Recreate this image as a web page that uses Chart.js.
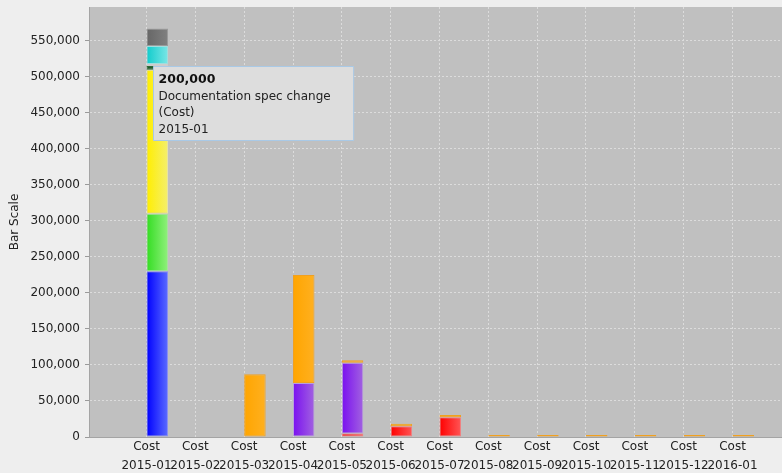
<!DOCTYPE html>
<html>
<head>
<meta charset="utf-8">
<script src="https://cdn.jsdelivr.net/npm/chart.js@4/dist/chart.umd.min.js"></script>
<style>
html,body{margin:0;padding:0;background:#eeeeee;overflow:hidden;}
canvas{display:block;}
</style>
</head>
<body>
<canvas id="c" width="782" height="473"></canvas>
<script>
// ---- data ----
const periods = ['2015-01','2015-02','2015-03','2015-04','2015-05','2015-06','2015-07','2015-08','2015-09','2015-10','2015-11','2015-12','2016-01'];
const subCategory = 'Cost';
const yTickValues = [0,50000,100000,150000,200000,250000,300000,350000,400000,450000,500000,550000];

const blueValues      = [230000,0,0,0,0,0,0,0,0,0,0,0,0];
const greenValues     = [80000,0,0,0,0,0,0,0,0,0,0,0,0];
const yellowValues    = [200000,0,0,0,0,0,0,0,0,0,0,0,0];
const darkGreenValues = [5000,0,0,0,0,0,0,0,0,0,0,0,0];
const lightGrayValues = [3000,0,0,0,0,0,0,0,0,0,0,0,0];
const cyanValues      = [25000,0,0,0,0,0,0,0,0,0,0,0,0];
const grayValues      = [24000,0,0,0,0,0,0,0,0,0,0,0,0];
const redValues       = [0,0,0,0,5000,15000,27500,0,0,0,0,0,0];
const purpleValues    = [0,0,0,75000,98000,0,0,0,0,0,0,0,0];
const orangeValues    = [0,0,87000,150000,3500,3500,3000,2700,2700,2700,2700,2700,2700];

const highlightedSeries = 'Documentation spec change';

// ---- styling ----
const FONT = 'DejaVu Sans';
const CAT_PCT = 0.88;
const X_MIN = -1.1775, X_MAX = 13.0137;
const Y_MAX = 597000;
const TOOLTIP_POINTER = {x: 153.5, y: 66.5};

const fmt = v => Number(v).toLocaleString('en-US');

function grad(c0, c1) {
  return function(ctx) {
    if (ctx.type !== 'data') return c0;
    const chart = ctx.chart, xs = chart.scales.x;
    if (!xs) return c0;
    const px = xs.getPixelForValue(ctx.dataIndex);
    const step = xs.getPixelForValue(1) - xs.getPixelForValue(0);
    const w = step * CAT_PCT / 2;
    if (!isFinite(px) || !isFinite(w) || w <= 0) return c0;
    const g = chart.ctx.createLinearGradient(px, 0, px + w, 0);
    g.addColorStop(0, c0);
    g.addColorStop(1, c1);
    return g;
  };
}

const toPoints = arr => arr.map((v, i) => ({x: i, y: v || null}));

const series = [
  {label: 'Requirements', values: blueValues, c: ['#0000ff', '#5a6bff'], b: '#8a90f0'},
  {label: 'Design', values: greenValues, c: ['#33dd22', '#90f07c'], b: '#a8e0a0'},
  {label: highlightedSeries, values: yellowValues, c: ['#ffee00', '#f4ef6c'], b: '#e8e4a0'},
  {label: 'Review', values: darkGreenValues, c: ['#1c5a28', '#3b6c42'], b: '#2e6a38'},
  {label: 'Other', values: lightGrayValues, c: ['#c4c4c4', '#d2d2d2'], b: '#cccccc'},
  {label: 'Testing', values: cyanValues, c: ['#10cccc', '#7ae6e6'], b: '#a0dede'},
  {label: 'Management', values: grayValues, c: ['#666666', '#808080'], b: '#9a9a9a'},
  {label: 'Defect fix', values: redValues, c: ['#ff0000', '#ff5555'], b: '#f08080'},
  {label: 'Enhancement', values: purpleValues, c: ['#7a10f0', '#a262e0'], b: '#b8a0dc'},
  {label: 'Maintenance', values: orangeValues, c: ['#ffa500', '#ffb020'], b: '#f0a020'}
];

const datasets = [
  {label: '', stack: 'empty', data: periods.map((p, i) => ({x: i, y: null})),
   backgroundColor: 'rgba(0,0,0,0)', borderWidth: 0}
].concat(series.map(s => ({
  label: s.label,
  stack: 'cost',
  data: toPoints(s.values),
  backgroundColor: grad(s.c[0], s.c[1]),
  borderColor: s.b,
  borderWidth: 1,
  borderSkipped: false
})));

const plotBg = {
  id: 'plotBg',
  beforeDraw(chart) {
    const {ctx, chartArea: a} = chart;
    ctx.save();
    ctx.fillStyle = '#c0c0c0';
    ctx.fillRect(a.left, a.top, a.right - a.left, a.bottom - a.top);
    ctx.restore();
  }
};

Chart.Tooltip.positioners.pinned = function(items, eventPosition) {
  return eventPosition ? {x: eventPosition.x, y: eventPosition.y} : false;
};

Chart.defaults.font.family = FONT;
Chart.defaults.font.size = 12;
Chart.defaults.color = '#333333';

const chart = new Chart(document.getElementById('c'), {
  type: 'bar',
  data: {datasets},
  plugins: [plotBg],
  options: {
    responsive: false,
    animation: false,
    events: [],
    layout: {padding: {top: 7, right: 0, bottom: 0, left: 0}},
    datasets: {bar: {categoryPercentage: CAT_PCT, barPercentage: 1, grouped: true}},
    scales: {
      x: {
        type: 'linear',
        stacked: true,
        offset: false,
        min: X_MIN,
        max: X_MAX,
        afterBuildTicks: s => { s.ticks = periods.map((p, i) => ({value: i})); },
        afterFit: s => { s.height = 36; s.paddingLeft = 0; s.paddingRight = 0; },
        ticks: {
          autoSkip: false, maxRotation: 0, minRotation: 0,
          padding: 0,
          color: '#222222',
          font: {family: FONT, size: 12, lineHeight: '19px'},
          callback: v => [subCategory, periods[Math.round(v)]]
        },
        grid: {color: '#dcdcdc', lineWidth: 1, drawTicks: false, offset: false},
        border: {display: true, color: '#a4a4a4', width: 1, dash: [2, 2]}
      },
      y: {
        type: 'linear',
        stacked: true,
        min: 0,
        max: Y_MAX,
        afterBuildTicks: s => { s.ticks = yTickValues.map(v => ({value: v})); },
        afterFit: s => { s.width = 89; s.paddingTop = 0; s.paddingBottom = 0; },
        ticks: {
          padding: 5,
          color: '#222222',
          font: {family: FONT, size: 12},
          callback: v => fmt(v)
        },
        grid: {color: '#dcdcdc', lineWidth: 1, drawTicks: true, tickLength: 4, tickColor: '#9a9a9a', tickBorderDash: []},
        border: {display: true, color: '#a4a4a4', width: 1, dash: [2, 2]},
        title: {display: true, text: 'Bar Scale', color: '#222222',
                font: {family: FONT, size: 12, lineHeight: 1.2}, padding: {top: 8, bottom: 0}}
      }
    },
    plugins: {
      legend: {display: false},
      tooltip: {
        enabled: true,
        position: 'pinned',
        xAlign: 'left',
        yAlign: 'top',
        caretSize: 0,
        caretPadding: 0,
        cornerRadius: 0,
        backgroundColor: '#dddddd',
        borderColor: '#a9c9e6',
        borderWidth: 1,
        titleColor: '#111111',
        bodyColor: '#222222',
        titleFont: {family: FONT, size: 12.5, weight: 'bold', lineHeight: '16px'},
        bodyFont: {family: FONT, size: 12, lineHeight: '16px'},
        titleMarginBottom: 1,
        bodySpacing: 0.5,
        padding: {top: 5, bottom: 3, left: 5, right: 23},
        displayColors: false,
        callbacks: {
          title: items => items.length ? fmt(items[0].parsed.y) : '',
          label: item => [item.dataset.label, '(' + subCategory + ')', periods[item.dataIndex]]
        }
      }
    }
  }
});

const hiIndex = datasets.findIndex(d => d.label === highlightedSeries);
chart.tooltip.setActiveElements([{datasetIndex: hiIndex, index: 0}], TOOLTIP_POINTER);
chart.draw();
</script>
</body>
</html>
